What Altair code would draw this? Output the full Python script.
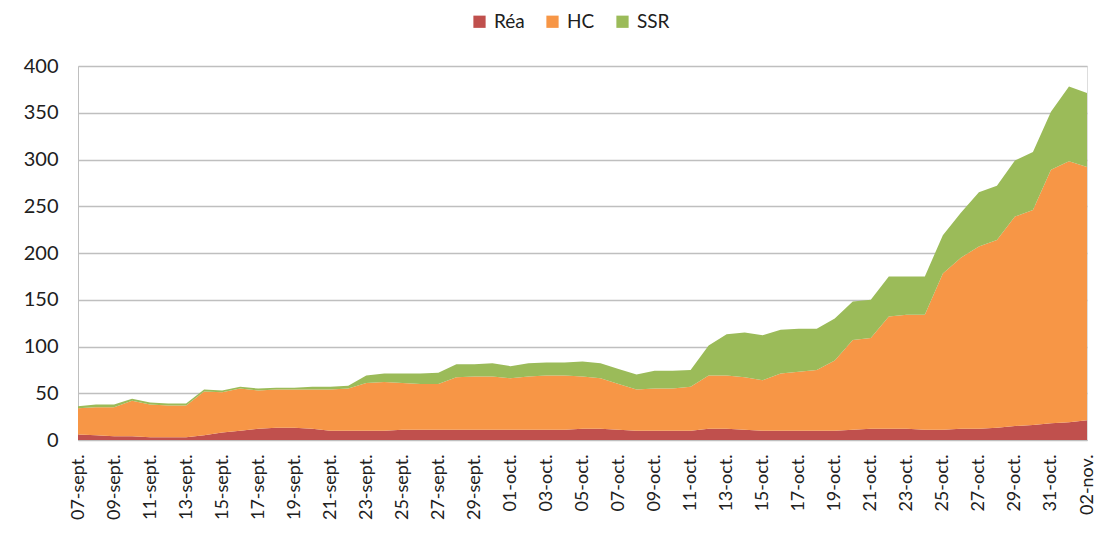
import altair as alt
import pandas as pd

dates = ([f"{d:02d}-sept." for d in range(7, 31)]
         + [f"{d:02d}-oct." for d in range(1, 32)]
         + ["01-nov.", "02-nov."])

rea = [6, 5, 4, 4, 3, 3, 3, 5, 8, 10, 12, 13, 13, 12,
       10, 10, 10, 10, 11, 11, 11, 11, 11, 11, 11, 11, 11, 11,
       12, 12, 11, 10, 10, 10, 10, 12, 12, 11, 10, 10, 10, 10,
       10, 11, 12, 12, 12, 11, 11, 12, 12, 13, 15, 16, 18, 19, 21]
hc = [28, 30, 31, 38, 35, 34, 34, 47, 43, 45, 41, 41, 41, 42,
      44, 45, 51, 52, 50, 49, 49, 56, 57, 57, 55, 57, 58, 58,
      56, 54, 49, 44, 45, 45, 47, 57, 57, 56, 54, 61, 63, 65,
      75, 96, 97, 120, 122, 123, 167, 183, 195, 201, 224, 230, 271, 279, 271]
ssr = [2, 3, 3, 2, 2, 2, 2, 2, 2, 2, 2, 2, 2, 3,
       3, 3, 8, 9, 10, 11, 12, 14, 13, 14, 13, 14, 14, 14,
       16, 16, 16, 16, 19, 19, 18, 32, 44, 48, 48, 47, 46, 44,
       45, 41, 41, 43, 41, 41, 41, 48, 58, 58, 60, 62, 62, 80, 79]

series = ["Réa", "HC", "SSR"]
colors = ["#C0504D", "#F79646", "#9BBB59"]
y_ticks = [0, 50, 100, 150, 200, 250, 300, 350, 400]

rows = []
for i, d in enumerate(dates):
    for k, (name, vals) in enumerate(zip(series, [rea, hc, ssr])):
        rows.append({"date": d, "serie": name, "ord": k, "value": vals[i]})
df = pd.DataFrame(rows)

tick_vals = dates[::2]
FONT = "Lato"

chart = alt.Chart(df).mark_area(opacity=1, interpolate="linear").encode(
    x=alt.X("date:O", sort=dates,
            scale=alt.Scale(type="point", padding=0),
            axis=alt.Axis(values=tick_vals, labelAngle=-90, title=None,
                          labelFont=FONT, labelFontSize=18, labelColor="#202020",
                          ticks=False, labelPadding=14, domainColor="#bfbfbf",
                          labelAlign="right", labelBaseline="middle")),
    y=alt.Y("value:Q", stack="zero",
            scale=alt.Scale(domain=[0, 400], nice=False),
            axis=alt.Axis(values=y_ticks, title=None, labelFont=FONT,
                          labelFontSize=20, labelColor="#202020", ticks=False,
                          labelPadding=20, domainColor="#bfbfbf",
                          gridColor="#bfbfbf", gridWidth=1.3)),
    color=alt.Color("serie:N", scale=alt.Scale(domain=series, range=colors),
                    legend=alt.Legend(title=None, orient="none", legendX=392,
                                      legendY=-54, direction="horizontal",
                                      symbolType="square", symbolSize=150,
                                      symbolStrokeWidth=0, labelFont=FONT,
                                      labelFontSize=19, labelColor="#202020",
                                      labelOffset=5, columnPadding=18)),
    order=alt.Order("ord:Q", sort="ascending"),
).properties(
    width=1009, height=374,
    autosize=alt.AutoSizeParams(type="none"),
    padding={"left": 70, "top": 58, "right": 16, "bottom": 92},
).configure_view(strokeWidth=0).configure(background="white")

chart.save("out.html", embed_options={"renderer": "svg", "actions": False})
